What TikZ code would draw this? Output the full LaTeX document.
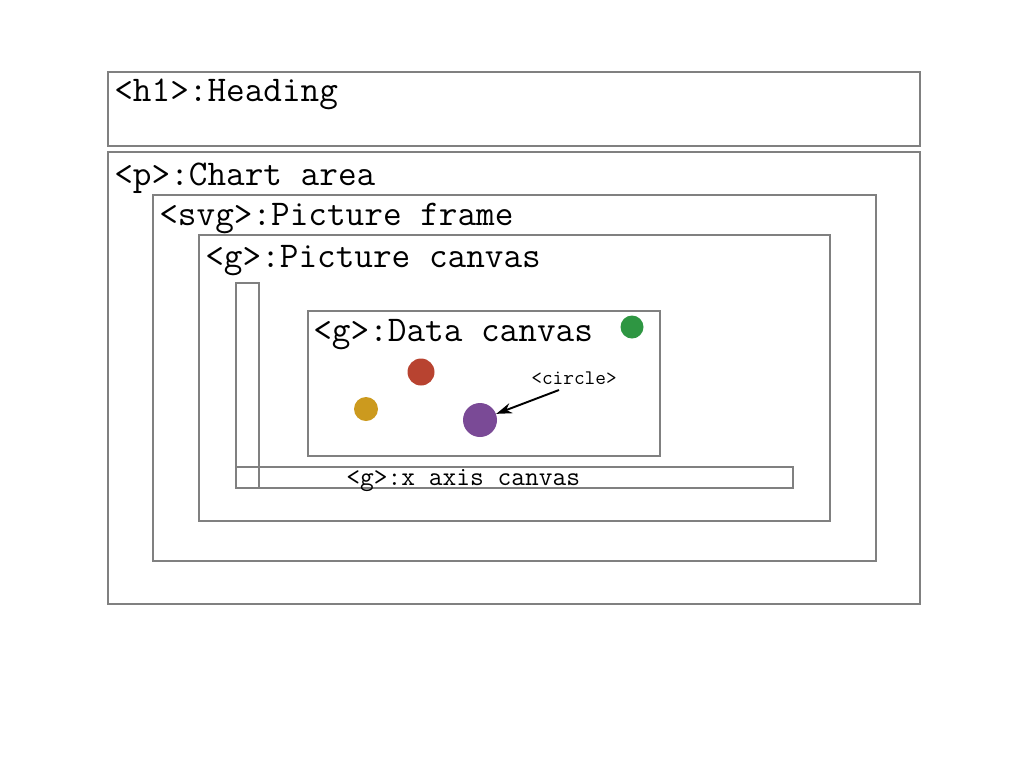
\documentclass[tikz,border=0pt]{standalone}
\usepackage{tikz}
\usetikzlibrary{fit,arrows.meta}

\definecolor{boxgray}{RGB}{128,128,128}
\definecolor{dotgreen}{RGB}{46,150,66}
\definecolor{dotred}{RGB}{184,67,48}
\definecolor{dotgold}{RGB}{204,154,30}
\definecolor{dotpurple}{RGB}{122,74,150}

\tikzset{
  box/.style={draw=boxgray,line width=1.1pt,inner sep=0pt},
  lbl/.style={anchor=base west,inner sep=0pt,font=\ttfamily\fontsize{20.6}{23}\selectfont},
  dot/.style={circle,inner sep=0pt,minimum size=#1},
}

\begin{document}
\begin{tikzpicture}[x=0.02cm,y=-0.02cm]
\useasboundingbox (0,0) rectangle (1028,772);

\node (h1)[box,fit={(108,72) (920,146)}]{};
\node (p)[box,fit={(108,152) (920,604)}]{};
\node (svg)[box,fit={(153,195) (876,561)}]{};
\node (pc)[box,fit={(199,235) (830,521)}]{};
\node (ya)[box,fit={(236,283) (259,488)}]{};
\node (dc)[box,fit={(308,311) (660,456)}]{};
\node (xa)[box,fit={(236,467) (793,488)}]{};

\node (h1t)[lbl] at (114,101) {<h1>:Heading};
\node (pt)[lbl] at (114,185) {<p>:Chart area};
\node (svgt)[lbl] at (159,225) {<svg>:Picture frame};
\node (pct)[lbl] at (205,267) {<g>:Picture canvas};
\node (dct)[lbl] at (313,341) {<g>:Data canvas};
\node (xat)[lbl,font=\ttfamily\fontsize{15.2}{17}\selectfont] at (346,485) {<g>:x axis canvas};

\node (gr)[dot=0.46cm,fill=dotgreen] at (632,327) {};
\node (rd)[dot=0.54cm,fill=dotred] at (421,372) {};
\node (gd)[dot=0.48cm,fill=dotgold] at (366,409) {};
\node (pu)[dot=0.68cm,fill=dotpurple] at (480,420) {};

\node (cl)[lbl,font=\ttfamily\fontsize{11.8}{13}\selectfont] at (531,384) {<circle>};
\coordinate (clfrom) at (559,390);
\draw[-{Stealth[length=9pt,width=6pt]},line width=1.1pt] (clfrom)--(pu);

\end{tikzpicture}
\end{document}
